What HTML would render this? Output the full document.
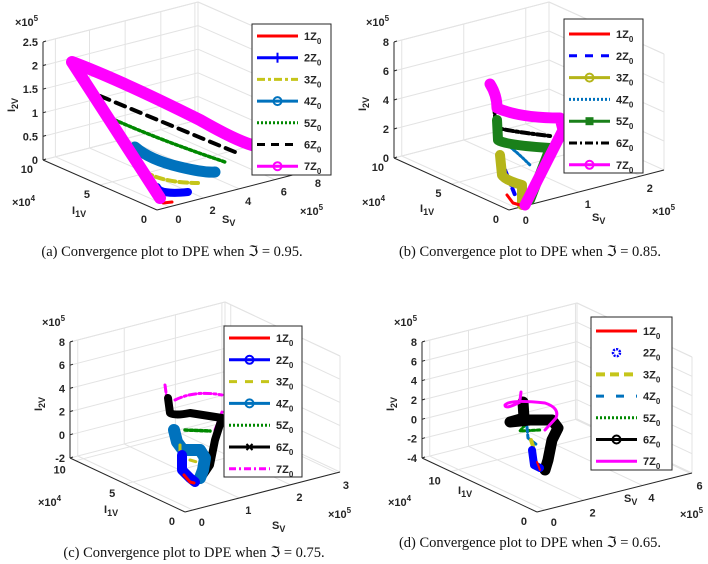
<!DOCTYPE html>
<html><head><meta charset="utf-8">
<style>
html,body{margin:0;padding:0;background:#fff;}
svg{display:block;}
.t{font-family:"Liberation Sans",sans-serif;font-weight:bold;font-size:11px;fill:#262626;}
.cap{font-family:"Liberation Serif",serif;font-size:14.5px;fill:#111;}
</style></head>
<body>
<svg id="s" width="708" height="564" viewBox="0 0 708 564" xmlns="http://www.w3.org/2000/svg"></svg>
<script>
const S=document.getElementById('s');let h='';
function add(x){h+=x;}
function ln(a,b,c){add(`<line x1="${a[0]}" y1="${a[1]}" x2="${b[0]}" y2="${b[1]}" stroke="${c}" stroke-width="1"/>`);}
function tx(x,y,s,anchor,cls){add(`<text x="${x}" y="${y}" class="${cls||'t'}" text-anchor="${anchor||'start'}">${s}</text>`);}
function lerp(a,b,t){return [a[0]+(b[0]-a[0])*t,a[1]+(b[1]-a[1])*t];}
function panel(p){
 const L=p.L,F=p.F,R=p.R,H=p.H;const B=[L[0]+R[0]-F[0],L[1]+R[1]-F[1]];
 const up=q=>[q[0],q[1]-H];const g='#e3e3e3';
 const nz=p.z.length;
 for(let i=0;i<nz;i++){const t=i/(nz-1);const dy=H*t;
  ln([L[0],L[1]-dy],[B[0],B[1]-dy],g);ln([B[0],B[1]-dy],[R[0],R[1]-dy],g);}
 p.it.forEach(([v,t])=>{const a=lerp(L,F,t),b=lerp(B,R,t);ln(a,b,g);ln(b,up(b),g);});
 p.st.forEach(([v,t])=>{const a=lerp(F,R,t),b=lerp(L,B,t);ln(a,b,g);ln(b,up(b),g);});
 ln(B,up(B),g);ln(up(L),up(B),g);ln(up(B),up(R),g);ln(R,up(R),g);
 ln(L,up(L),'#262626');ln(L,F,'#262626');ln(F,R,'#262626');
 for(let i=0;i<nz;i++){const y=L[1]-H*i/(nz-1);tx(L[0]-5,y+4,p.z[i],'end');ln([L[0],y],[L[0]+3,y-1],'#262626');}
 p.it.forEach(([v,t])=>{const a=lerp(L,F,t);tx(a[0]-10,a[1]+13,v,'end');});
 p.st.forEach(([v,t])=>{const a=lerp(F,R,t);tx(a[0]+6,a[1]+16,v,'start');});
 tx(L[0]-28,up(L)[1]-16,'×10<tspan dy="-5" font-size="8">5</tspan>','start');
 add(`<text class="t" font-size="13" transform="translate(${L[0]-28},${L[1]-H/2+4}) rotate(-90)" text-anchor="middle">I<tspan dy="3" font-size="9">2V</tspan></text>`);
 const ii=p.i1;add(`<text x="${ii[0]}" y="${ii[1]}" class="t" font-size="13">I<tspan dy="3" font-size="9">1V</tspan></text>`);
 tx(ii[2],ii[3],'×10<tspan dy="-5" font-size="8">4</tspan>','start');
 const sv=p.sv;add(`<text x="${sv[0]}" y="${sv[1]}" class="t" font-size="13">S<tspan dy="3" font-size="9">V</tspan></text>`);
 tx(sv[2],sv[3],'×10<tspan dy="-5" font-size="8">5</tspan>','start');
}
function path(d,c,w,dash){add(`<path d="${d}" fill="none" stroke="${c}" stroke-width="${w}" stroke-linecap="round" stroke-linejoin="round" ${dash?`stroke-dasharray="${dash}" stroke-linecap="butt"`:''}/>`);}
function legend(x,y,w,hh,ys,items){
 add(`<rect x="${x}" y="${y}" width="${w}" height="${hh}" fill="#fff" stroke="#262626" stroke-width="1"/>`);
 items.forEach((it,i)=>{const yy=ys[i];const x1=x+5,x2=x+46;
  if(it.line)add(`<line x1="${x1}" y1="${yy}" x2="${x2}" y2="${yy}" stroke="${it.c}" stroke-width="${it.w}" ${it.d?`stroke-dasharray="${it.d}"`:''}/>`);
  if(it.m==='o')add(`<circle cx="${(x1+x2)/2}" cy="${yy}" r="4" fill="none" stroke="${it.c}" stroke-width="2"/>`);
  if(it.m==='s')add(`<rect x="${(x1+x2)/2-4}" y="${yy-4}" width="8" height="8" fill="${it.c}"/>`);
  if(it.m==='+')add(`<line x1="${(x1+x2)/2}" y1="${yy-5}" x2="${(x1+x2)/2}" y2="${yy+5}" stroke="${it.c}" stroke-width="2"/>`);
  if(it.m==='x')add(`<path d="M${(x1+x2)/2-3},${yy-3}l6,6m0,-6l-6,6" stroke="${it.c}" stroke-width="2"/>`);
  if(it.m==='*')add(`<circle cx="${(x1+x2)/2}" cy="${yy}" r="3.5" fill="none" stroke="${it.c}" stroke-width="2.5" stroke-dasharray="2 1.2"/>`);
  tx(x+52,yy+4,`${i+1}Z<tspan dy="4" font-size="8">0</tspan>`,'start');});
}
const ys=(y0,dy)=>[0,1,2,3,4,5,6].map(i=>y0+i*dy);
// Panel a
panel({L:[43,160],F:[157,210],R:[312,170],H:118,z:['0','0.5','1','1.5','2','2.5'],it:[['10',0],['5',0.5],['0',1]],st:[['0',0.08],['2',0.3],['4',0.53],['6',0.76],['8',0.98]],i1:[72,214,12,206],sv:[222,223,300,215]});
path('M100,96 L235,152','#000',4,'10 7');
path('M115,120 Q160,140 225,162','#080',3.5,'2.5 2.5');
path('M135,147 Q150,160 180,167 Q205,173 215,172','#0072BD',11);
path('M145,172 Q165,183 198,183','#c5c51a',4,'8 4');
path('M157,187 Q160,195 188,192','#0000ff',8);
path('M163,203 L172,202','#f00',3);
path('M160,198 L72,62 Q120,80 200,120 Q235,140 252,145','#ff00ff',12);
legend(252,24,79,151,ys(36,21.7),[{line:1,c:'#f00',w:3},{line:1,c:'#00f',w:3,m:'+'},{line:1,c:'#c5c51a',w:3,d:'8 3 3 3'},{line:1,c:'#0072BD',w:3,m:'o'},{line:1,c:'#080',w:3,d:'2 2'},{line:1,c:'#000',w:3,d:'8 6'},{line:1,c:'#f0f',w:3,m:'o'}]);
tx(172,256,'(a) Convergence plot to DPE when ℑ = 0.95.','middle','cap');
// Panel b
panel({L:[394,158],F:[509,210],R:[664,170],H:116,z:['0','2','4','6','8'],it:[['10',0],['5',0.5],['0',1]],st:[['0',0.05],['1',0.45],['2',0.85]],i1:[420,212,362,206],sv:[592,221,652,215]});
path('M494,105 L496,127 Q500,130 550,136','#000',4,'8 3 2 3');
path('M501,140 Q515,150 530,165','#0072BD',3,'2 2');
path('M505,170 L515,195','#00f',4,'6 4');
path('M500,155 L502,175 Q505,180 522,185 L522,205','#b5b51a',10);
path('M497,120 L498,140 Q505,145 550,148 L530,200','#1a801a',10);
path('M507,195 L513,203 L520,205','#f00',3);
path('M490,84 Q497,95 497,108 Q520,118 560,118 L563,130 L525,205','#ff00ff',11);
legend(564,19,79,154,ys(34,21.8),[{line:1,c:'#f00',w:3},{line:1,c:'#00f',w:3,d:'8 8'},{line:1,c:'#b5b51a',w:3,m:'o'},{line:1,c:'#0072BD',w:3,d:'2 2'},{line:1,c:'#1a801a',w:3,m:'s'},{line:1,c:'#000',w:3,d:'8 3 2 3'},{line:1,c:'#f0f',w:3,m:'o'}]);
tx(530,256,'(b) Convergence plot to DPE when ℑ = 0.85.','middle','cap');
// Panel c
panel({L:[70,458],F:[185,512],R:[340,472],H:116,z:['-2','0','2','4','6','8'],it:[['10',0.05],['5',0.48],['0',1]],st:[['0',0.05],['1',0.35],['2',0.68],['3',0.98]],i1:[104,513,38,506],sv:[272,529,328,518]});
path('M165,385 L167,400 M175,400 Q195,390 222,395 M222,412 L215,430','#ff00ff',3,'7 3 2 3');
path('M185,430 L210,431','#080',3.5,'2.5 2.5');
path('M168,398 L170,413 Q175,416 190,413 L222,418 L215,440 L210,465 L200,480','#000',8);
path('M174,430 L177,442 L183,450 L200,450 L205,458 L203,470 L200,478','#0072BD',12);
path('M180,445 L180,455 M190,460 L197,462','#c5c51a',3,'6 4');
path('M182,455 L182,470 L190,478 L195,482','#00f',10);
path('M184,475 L190,482 L194,483','#f00',3);
legend(224,326,78,151,ys(338,21.8),[{line:1,c:'#f00',w:3},{line:1,c:'#00f',w:3,m:'o'},{line:1,c:'#c5c51a',w:3,d:'8 8'},{line:1,c:'#0072BD',w:3,m:'o'},{line:1,c:'#080',w:3,d:'2 2'},{line:1,c:'#000',w:3,m:'x'},{line:1,c:'#f0f',w:3,d:'7 3 2 3'}]);
tx(194,557,'(c) Convergence plot to DPE when ℑ = 0.75.','middle','cap');
// Panel d
panel({L:[422,458],F:[537,512],R:[692,473],H:116,z:['-4','-2','0','2','4','6','8'],it:[['10',0.25],['0',1]],st:[['0',0.05],['2',0.3],['4',0.68],['6',0.99]],i1:[458,494,388,506],sv:[624,502,680,518]});
path('M525,410 L525,425 L520,431 L540,430','#080',3,'2.5 2.5');
path('M527,427 L528,438 L537,445','#0072BD',3,'5 3');
path('M531,440 L533,446','#c5c51a',4);
path('M523,402 L524,418 L510,422 L530,420 L552,420 L558,428 L552,440 L548,460 L545,470','#000',11);
path('M521,392 L520,400 M520,402 Q505,410 505,405 Q510,399 545,403 Q560,408 556,418 L545,430','#ff00ff',3);
path('M532,450 L534,465 L540,468','#00f',8);
path('M537,462 L540,470','#f00',2);
legend(591,317,81,153,ys(331,21.7),[{line:1,c:'#f00',w:3},{line:0,c:'#00f',m:'*'},{line:1,c:'#c5c51a',w:4,d:'9 5'},{line:1,c:'#0072BD',w:3,d:'8 12'},{line:1,c:'#080',w:3,d:'2 2'},{line:1,c:'#000',w:3,m:'o'},{line:1,c:'#f0f',w:3}]);
tx(530,547,'(d) Convergence plot to DPE when ℑ = 0.65.','middle','cap');
S.innerHTML=h;
</script>
</body></html>
